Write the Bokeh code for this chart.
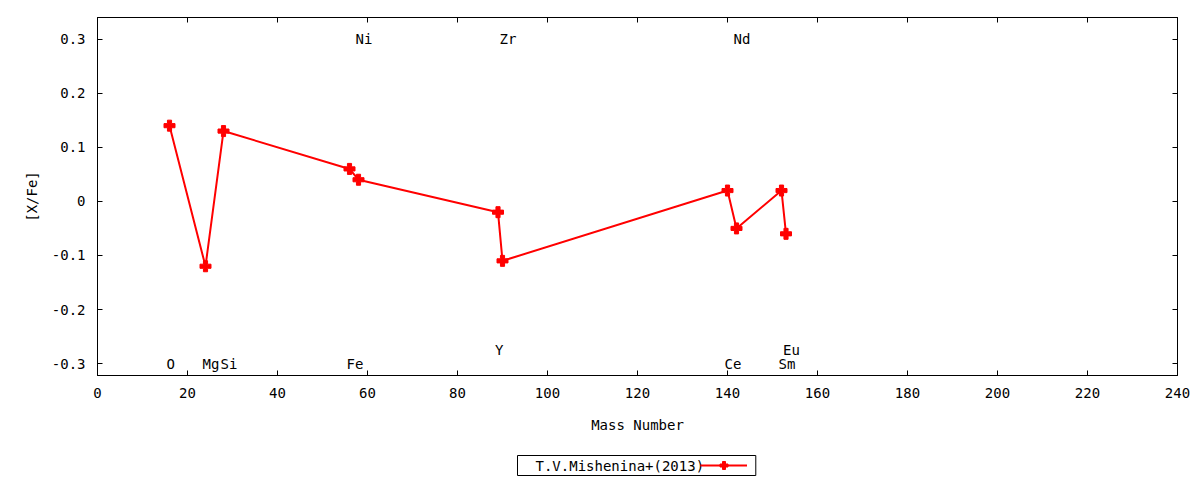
from bokeh.plotting import figure
from bokeh.layouts import column
from bokeh.models import (Range1d, FixedTicker, LinearAxis, CustomJSTickFormatter,
                          Legend, LegendItem, Label, ColumnDataSource)
from bokeh.core.properties import value
from bokeh.embed import file_html
from bokeh.resources import INLINE

# ---- data ----
mass = [16, 24, 28, 56, 58, 89, 90, 140, 142, 152, 153]
xfe = [0.14, -0.12, 0.13, 0.06, 0.04, -0.02, -0.11, 0.02, -0.05, 0.02, -0.06]
series_name = "T.V.Mishenina+(2013)"

label_names = ["O", "Mg", "Si", "Fe", "Ni", "Y", "Zr", "Ce", "Nd", "Sm", "Eu"]
label_mass = [16, 24, 28, 56, 58, 89, 90, 140, 142, 152, 153]
label_y = [-0.3, -0.3, -0.3, -0.3, 0.3, -0.275, 0.3, -0.3, 0.3, -0.3, -0.275]

x_ticks = list(range(0, 241, 20))
y_ticks = [-0.3, -0.2, -0.1, 0.0, 0.1, 0.2, 0.3]

FONT = "DejaVu Sans Mono"
FS = "14px"

p = figure(width=1192, height=438, output_backend="svg", toolbar_location=None,
           x_range=Range1d(0, 240), y_range=Range1d(-0.322, 0.340),
           min_border_left=97, min_border_right=15, min_border_top=17,
           min_border_bottom=63)
p.xgrid.visible = False
p.ygrid.visible = False
p.outline_line_color = "black"
p.outline_line_width = 1
p.background_fill_color = "white"
p.border_fill_color = "white"

yfmt = CustomJSTickFormatter(code="""
const v = Math.round(tick*10)/10;
return v == 0 ? "0" : v.toString();
""")

def style_axis(ax, show_labels=True):
    ax.major_tick_in = 5
    ax.major_tick_out = 0
    ax.minor_tick_in = 0
    ax.minor_tick_out = 0
    ax.axis_line_color = "black"
    ax.major_tick_line_color = "black"
    ax.major_label_text_font = FONT
    ax.major_label_text_font_size = FS
    ax.major_label_text_color = "black"
    ax.axis_label_text_font = FONT
    ax.axis_label_text_font_size = FS
    ax.axis_label_text_font_style = "normal"
    ax.axis_label_text_color = "black"
    if not show_labels:
        ax.major_label_text_alpha = 0
        ax.major_label_text_font_size = "0px"

xa = p.xaxis[0]
xa.ticker = FixedTicker(ticks=x_ticks)
style_axis(xa)
xa.axis_label = "Mass Number"
xa.major_label_standoff = 12
xa.axis_label_standoff = 16

ya = p.yaxis[0]
ya.ticker = FixedTicker(ticks=y_ticks)
ya.formatter = yfmt
style_axis(ya)
ya.axis_label = "[X/Fe]"
ya.major_label_standoff = 12
ya.axis_label_standoff = 9

top = LinearAxis(ticker=FixedTicker(ticks=x_ticks))
style_axis(top, False)
p.add_layout(top, "above")
right = LinearAxis(ticker=FixedTicker(ticks=y_ticks))
style_axis(right, False)
p.add_layout(right, "right")

src = ColumnDataSource(dict(x=mass, y=xfe))
p.line("x", "y", source=src, line_color="red", line_width=2)
p.scatter("x", "y", source=src, marker="plus", size=11, color="red")

lsrc = ColumnDataSource(dict(x=label_mass, y=label_y, t=label_names))
p.text("x", "y", text="t", source=lsrc, text_font=value(FONT),
       text_font_size=FS, text_align="left", text_baseline="middle",
       x_offset=-3, text_color="black")

# ---- key strip below the chart (gnuplot style: text, then sample) ----
# its frame is aligned with the chart frame by the column layout
k = figure(width=1192, height=41, output_backend="svg", toolbar_location=None,
           x_range=Range1d(0, 1), y_range=Range1d(0, 1),
           x_axis_type=None, y_axis_type=None, min_border=0)
k.outline_line_color = None
k.background_fill_color = "white"
k.border_fill_color = "white"
kl = k.line("x", "y", source=src, line_color="red", line_width=2, visible=False)
ks = k.scatter("x", "y", source=src, marker="plus", size=11, color="red", visible=False)

box = Label(x=420, y=14, x_units="screen", y_units="screen",
            text=series_name + "    ", text_font=FONT, text_font_size=FS,
            text_align="left", text_baseline="middle", text_color="black",
            border_line_color="black", border_line_width=1,
            background_fill_color="white", padding=(18, 2))
k.add_layout(box)

leg = Legend(items=[LegendItem(label=" ", renderers=[kl, ks])],
             location=(603, 4), glyph_width=47, glyph_height=20,
             label_standoff=0, padding=0, margin=0,
             border_line_alpha=0, background_fill_alpha=0,
             label_text_font=FONT, label_text_font_size=FS)
k.add_layout(leg, "center")

open("out.html", "w").write(file_html(column(p, k, spacing=0), INLINE))
